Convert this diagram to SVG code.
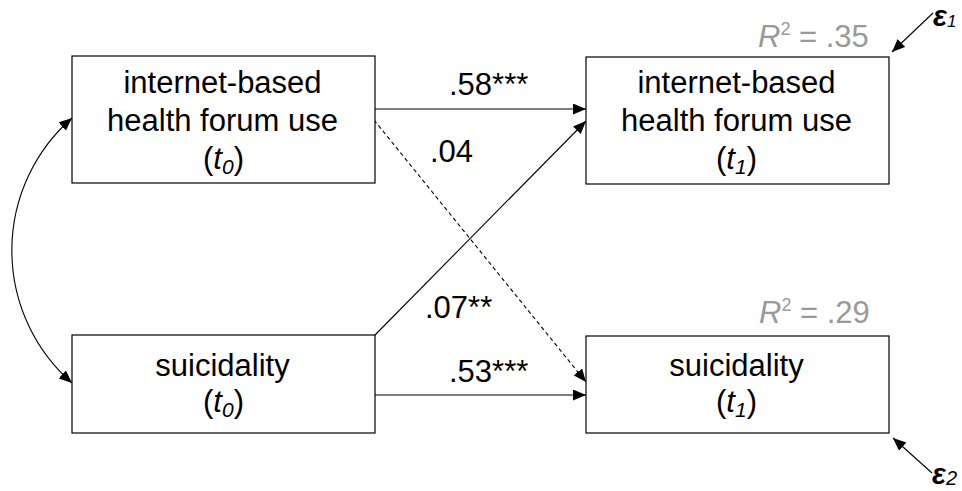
<svg xmlns="http://www.w3.org/2000/svg" width="962" height="491" viewBox="0 0 962 491">
<style>
.box{fill:#fff;stroke:#000;stroke-width:1.2}
.t{font-family:"Liberation Sans",Arial,sans-serif;font-size:31px;fill:#000}
.c{text-anchor:middle}
.r2{font-family:"Liberation Sans",Arial,sans-serif;font-size:31px;fill:#999}
.e{font-family:"Liberation Sans",Arial,sans-serif;font-size:29px;font-style:italic;font-weight:bold;fill:#000}
.ln{fill:none;stroke:#000;stroke-width:1.1}
.dash{stroke-dasharray:4 3}
</style>
<defs>
<marker id="ah" markerUnits="userSpaceOnUse" markerWidth="14" markerHeight="12" refX="13" refY="5.5" orient="auto-start-reverse">
<path d="M0,0 L13,5.5 L0,11 z" fill="#000"/>
</marker>
</defs>
<g id="connectors">
<path class="ln" d="M72,118 A176,176 0 0 0 72,383" marker-start="url(#ah)" marker-end="url(#ah)"/>
<line class="ln" x1="375" y1="109" x2="586" y2="109" marker-end="url(#ah)"/>
<line class="ln" x1="375" y1="395" x2="586" y2="395" marker-end="url(#ah)"/>
<line class="ln" x1="375" y1="335" x2="586" y2="121" marker-end="url(#ah)"/>
<line class="ln dash" x1="374" y1="120" x2="586" y2="382" marker-end="url(#ah)"/>
<line class="ln" x1="933" y1="13" x2="892" y2="52" marker-end="url(#ah)"/>
<line class="ln" x1="932" y1="473" x2="893" y2="438" marker-end="url(#ah)"/>
<text class="t" x="449" y="95">.58***</text>
<text class="t" x="430" y="162">.04</text>
<text class="t" x="425" y="318">.07**</text>
<text class="t" x="449" y="382">.53***</text>
</g>
<g id="ifu_t0">
<rect class="box" x="72" y="56" width="303" height="127"/>
<text class="t c" x="222.5" y="93">internet-based</text>
<text class="t c" x="222.5" y="131">health forum use</text>
<text class="t c" x="223.5" y="169">(<tspan font-style="italic">t</tspan><tspan font-style="italic" font-size="21" dy="5">0</tspan><tspan dy="-5">)</tspan></text>
</g>
<g id="ifu_t1">
<rect class="box" x="586" y="57" width="303" height="127"/>
<text class="t c" x="736.5" y="93">internet-based</text>
<text class="t c" x="736.5" y="131">health forum use</text>
<text class="t c" x="736.5" y="169">(<tspan font-style="italic">t</tspan><tspan font-style="italic" font-size="21" dy="5">1</tspan><tspan dy="-5">)</tspan></text>
<text class="r2" x="758" y="47"><tspan font-style="italic">R</tspan><tspan font-size="18" dy="-12">2</tspan><tspan dy="12"> = .35</tspan></text>
<text class="e" x="933" y="26">ε<tspan font-size="17" font-weight="normal" dy="1">1</tspan></text>
</g>
<g id="sui_t0">
<rect class="box" x="72" y="335" width="303" height="98"/>
<text class="t c" x="222.5" y="376">suicidality</text>
<text class="t c" x="223.5" y="412">(<tspan font-style="italic">t</tspan><tspan font-style="italic" font-size="21" dy="5">0</tspan><tspan dy="-5">)</tspan></text>
</g>
<g id="sui_t1">
<rect class="box" x="586" y="336" width="303" height="97"/>
<text class="t c" x="736.5" y="376">suicidality</text>
<text class="t c" x="736.5" y="412">(<tspan font-style="italic">t</tspan><tspan font-style="italic" font-size="21" dy="5">1</tspan><tspan dy="-5">)</tspan></text>
<text class="r2" x="759" y="323"><tspan font-style="italic">R</tspan><tspan font-size="18" dy="-12">2</tspan><tspan dy="12"> = .29</tspan></text>
<text class="e" x="932" y="484">ε<tspan font-size="20" font-weight="normal" dy="1">2</tspan></text>
</g>
</svg>
